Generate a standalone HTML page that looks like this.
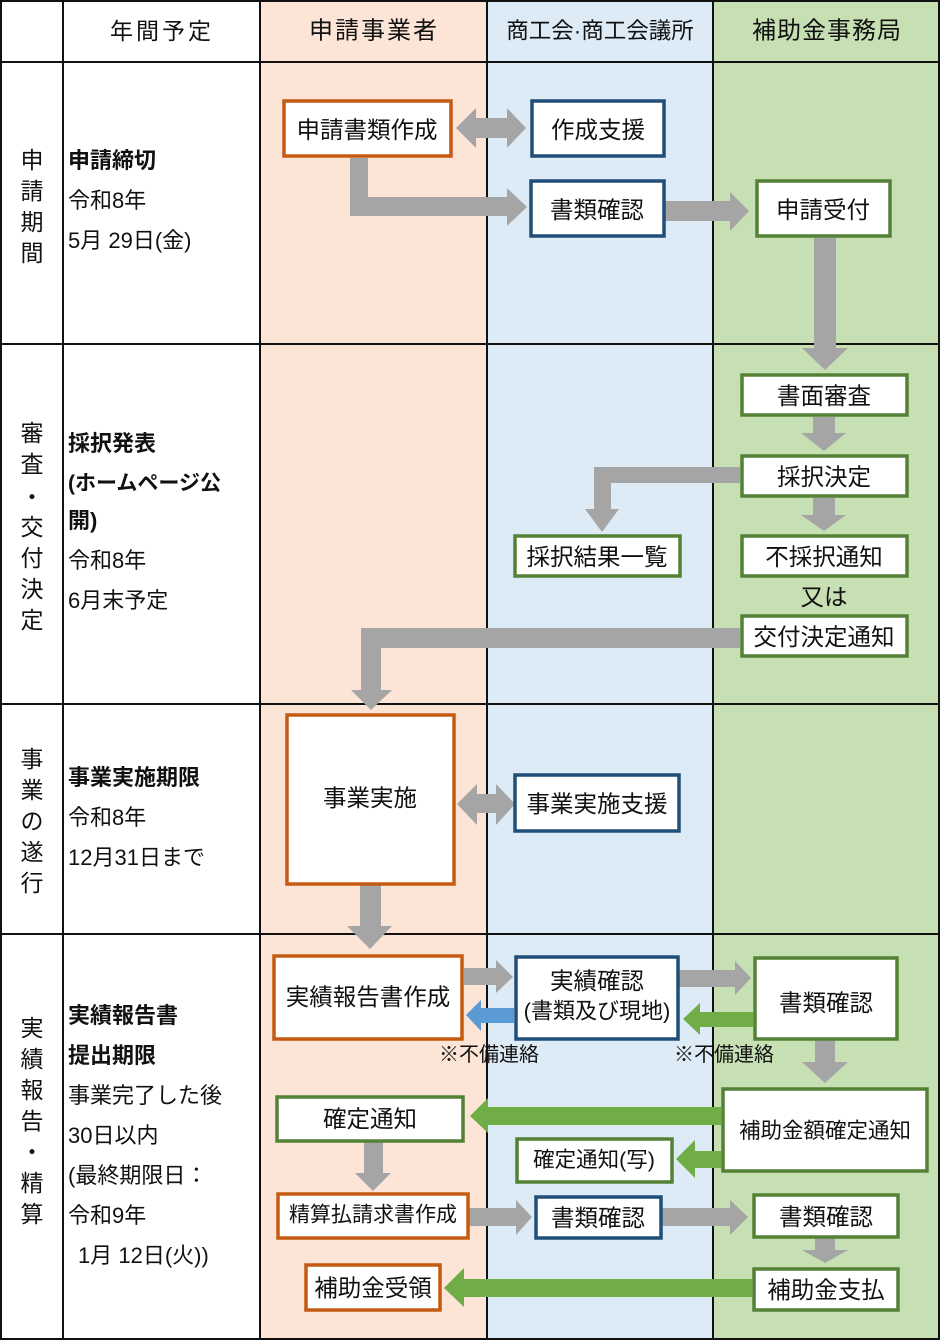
<!DOCTYPE html>
<html><head><meta charset="utf-8"><style>
html,body{margin:0;padding:0;background:#fff;}
svg{display:block;}
text{font-family:"Liberation Sans","Noto Sans CJK JP",sans-serif;fill:#111;}
.b{font-size:23.5px;text-anchor:middle;dominant-baseline:central;}
.s{font-size:22px;}
.v{font-size:23px;text-anchor:middle;dominant-baseline:central;}
</style></head><body>
<svg width="940" height="1340" viewBox="0 0 940 1340" xmlns="http://www.w3.org/2000/svg">
<rect x="0" y="0" width="940" height="1340" fill="#fff"/>
<rect x="260" y="0" width="227" height="1340" fill="#fce4d6"/>
<rect x="487" y="0" width="226" height="1340" fill="#ddebf7"/>
<rect x="713" y="0" width="227" height="1340" fill="#c6e0b4"/>
<g stroke="#111" stroke-width="2">
<rect x="1" y="1" width="938" height="1338" fill="none"/>
<line x1="63" y1="0" x2="63" y2="1340"/><line x1="260" y1="0" x2="260" y2="1340"/>
<line x1="487" y1="0" x2="487" y2="1340"/><line x1="713" y1="0" x2="713" y2="1340"/>
<line x1="0" y1="62" x2="940" y2="62"/><line x1="0" y1="344" x2="940" y2="344"/>
<line x1="0" y1="704" x2="940" y2="704"/><line x1="0" y1="934" x2="940" y2="934"/>
</g>
<text class="v" x="162" y="31" style="font-size:23px;letter-spacing:3px">年間予定</text>
<text class="v" x="374" y="31" style="font-size:24px;letter-spacing:2px">申請事業者</text>
<text class="v" x="600" y="31" style="font-size:22.5px">商工会·商工会議所</text>
<text class="v" x="827" y="31" style="font-size:24px;letter-spacing:1px">補助金事務局</text>
<g>
<text class="v" x="32" y="160">申</text><text class="v" x="32" y="191">請</text><text class="v" x="32" y="222">期</text><text class="v" x="32" y="253">間</text>
<text class="v" x="32" y="433">審</text><text class="v" x="32" y="464">査</text><text class="v" x="32" y="497">・</text><text class="v" x="32" y="527">交</text><text class="v" x="32" y="558">付</text><text class="v" x="32" y="589">決</text><text class="v" x="32" y="620">定</text>
<text class="v" x="32" y="759">事</text><text class="v" x="32" y="790">業</text><text class="v" x="32" y="821">の</text><text class="v" x="32" y="852">遂</text><text class="v" x="32" y="883">行</text>
<text class="v" x="32" y="1028">実</text><text class="v" x="32" y="1059">績</text><text class="v" x="32" y="1090">報</text><text class="v" x="32" y="1121">告</text><text class="v" x="32" y="1152">・</text><text class="v" x="32" y="1183">精</text><text class="v" x="32" y="1214">算</text>
</g>
<g>
<text class="s" x="68" y="168" font-weight="bold">申請締切</text>
<text class="s" x="68" y="208">令和8年</text>
<text class="s" x="68" y="248">5月 29日(金)</text>
<text class="s" x="68" y="451" font-weight="bold">採択発表</text>
<text class="s" x="68" y="490" font-weight="bold" style="font-size:21px">(ホームページ公</text>
<text class="s" x="68" y="528" font-weight="bold">開)</text>
<text class="s" x="68" y="568">令和8年</text>
<text class="s" x="68" y="608">6月末予定</text>
<text class="s" x="68" y="785" font-weight="bold">事業実施期限</text>
<text class="s" x="68" y="825">令和8年</text>
<text class="s" x="68" y="865">12月31日まで</text>
<text class="s" x="68" y="1023" font-weight="bold">実績報告書</text>
<text class="s" x="68" y="1063" font-weight="bold">提出期限</text>
<text class="s" x="68" y="1103">事業完了した後</text>
<text class="s" x="68" y="1143">30日以内</text>
<text class="s" x="68" y="1183">(最終期限日：</text>
<text class="s" x="68" y="1223">令和9年</text>
<text class="s" x="78" y="1263">1月 12日(火))</text>
</g>
<g fill="#a5a5a5">
<polygon points="456,128 476,108 476,118 507,118 507,108 526,128 507,148 507,138 476,138 476,148"/>
<polygon points="350,158 368,158 368,197 507,197 507,188 527,207 507,226 507,216 350,216"/>
<polygon points="665,201 730,201 730,192 749,211 730,231 730,221 665,221"/>
<polygon points="814,238 836,238 836,348 848,348 825,370 802,348 814,348"/>
<polygon points="813,417 835,417 835,433 846,433 824,451 801,433 813,433"/>
<polygon points="740,467 740,483 611,483 611,509 619,509 602,532 585,509 594,509 594,467"/>
<polygon points="813,498 835,498 835,515 846,515 824,531 801,515 813,515"/>
<polygon points="740,628 740,648 381,648 381,690 392,690 371,710 351,690 361,690 361,628"/>
<polygon points="457,804 477,784 477,794 496,794 496,784 515,804 496,825 496,813 477,813 477,825"/>
<polygon points="360,885 381,885 381,926 392,926 370,949 347,926 360,926"/>
<polygon points="464,968 496,968 496,960 513,977 496,993 496,985 464,985"/>
<polygon points="679,970 735,970 735,961 751,978 735,995 735,987 679,987"/>
<polygon points="815,1040 835,1040 835,1062 848,1062 825,1083 802,1062 815,1062"/>
<polygon points="364,1142 383,1142 383,1173 391,1173 373,1191 355,1173 364,1173"/>
<polygon points="469,1208 516,1208 516,1200 532,1217 516,1235 516,1226 469,1226"/>
<polygon points="662,1208 730,1208 730,1200 748,1217 730,1235 730,1226 662,1226"/>
<polygon points="815,1238 835,1238 835,1250 848,1250 825,1263 802,1250 815,1250"/>
</g>
<polygon fill="#5b9bd5" points="514,1008 481,1008 481,1000 466,1015 481,1031 481,1023 514,1023"/>
<g fill="#70ad47">
<polygon points="753,1012 700,1012 700,1003 683,1019 700,1035 700,1027 753,1027"/>
<polygon points="721,1107 488,1107 488,1098 470,1116 488,1133 488,1125 721,1125"/>
<polygon points="721,1151 695,1151 695,1140 676,1159 695,1178 695,1168 721,1168"/>
<polygon points="752,1279 464,1279 464,1268 444,1288 464,1307 464,1297 752,1297"/>
</g>
<g fill="#fff" stroke-width="3.5">
<rect x="284" y="101" width="167" height="55" stroke="#c55a11"/>
<rect x="532" y="101" width="132" height="55" stroke="#1f4e79"/>
<rect x="531" y="181" width="133" height="55" stroke="#1f4e79"/>
<rect x="757" y="181" width="133" height="55" stroke="#538135"/>
<rect x="742" y="375" width="165" height="40" stroke="#538135"/>
<rect x="742" y="456" width="165" height="40" stroke="#538135"/>
<rect x="515" y="536" width="165" height="40" stroke="#538135"/>
<rect x="742" y="536" width="165" height="40" stroke="#538135"/>
<rect x="742" y="616" width="165" height="40" stroke="#538135"/>
<rect x="287" y="715" width="167" height="169" stroke="#c55a11"/>
<rect x="515" y="775" width="164" height="56" stroke="#1f4e79"/>
<rect x="274" y="956" width="188" height="83" stroke="#c55a11"/>
<rect x="516" y="957" width="162" height="82" stroke="#1f4e79"/>
<rect x="755" y="958" width="142" height="81" stroke="#538135"/>
<rect x="277" y="1097" width="186" height="44" stroke="#538135"/>
<rect x="723" y="1089" width="204" height="82" stroke="#538135"/>
<rect x="517" y="1139" width="155" height="43" stroke="#538135"/>
<rect x="278" y="1194" width="190" height="44" stroke="#c55a11"/>
<rect x="536" y="1197" width="125" height="41" stroke="#1f4e79"/>
<rect x="754" y="1195" width="144" height="42" stroke="#538135"/>
<rect x="306" y="1265" width="134" height="45" stroke="#c55a11"/>
<rect x="754" y="1269" width="144" height="41" stroke="#538135"/>
</g>
<text class="b" x="367" y="130">申請書類作成</text>
<text class="b" x="598" y="130">作成支援</text>
<text class="b" x="597" y="210">書類確認</text>
<text class="b" x="823" y="210">申請受付</text>
<text class="b" x="824" y="396">書面審査</text>
<text class="b" x="824" y="477">採択決定</text>
<text class="b" x="597" y="557">採択結果一覧</text>
<text class="b" x="824" y="557">不採択通知</text>
<text class="b" x="824" y="597">又は</text>
<text class="b" x="824" y="637">交付決定通知</text>
<text class="b" x="370" y="798">事業実施</text>
<text class="b" x="597" y="804">事業実施支援</text>
<text class="b" x="368" y="997">実績報告書作成</text>
<text class="b" x="597" y="981">実績確認</text>
<text class="b" x="597" y="1011" style="font-size:22px">(書類及び現地)</text>
<text class="b" x="826" y="1003">書類確認</text>
<text class="b" x="489" y="1055" style="font-size:20px">※不備連絡</text>
<text class="b" x="724" y="1055" style="font-size:20px">※不備連絡</text>
<text class="b" x="370" y="1119">確定通知</text>
<text class="b" x="825" y="1131" style="font-size:21.5px">補助金額確定通知</text>
<text class="b" x="594" y="1160" style="font-size:21.5px">確定通知(写)</text>
<text class="b" x="373" y="1215" style="font-size:21px">精算払請求書作成</text>
<text class="b" x="598" y="1218">書類確認</text>
<text class="b" x="826" y="1217">書類確認</text>
<text class="b" x="373" y="1288">補助金受領</text>
<text class="b" x="826" y="1290">補助金支払</text>
</svg>
</body></html>
